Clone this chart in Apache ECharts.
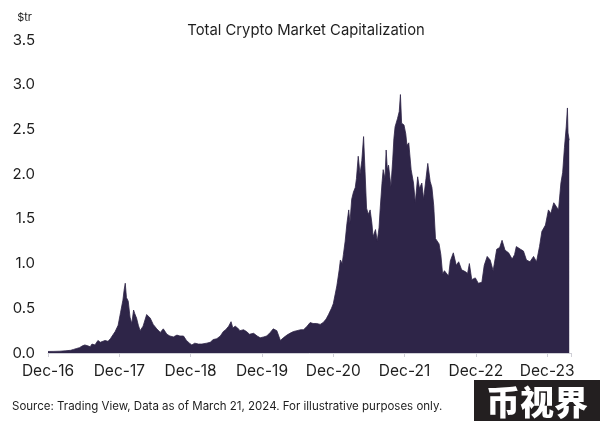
<!DOCTYPE html>
<html>
<head>
<meta charset="utf-8">
<script src="https://cdn.jsdelivr.net/npm/echarts@6/dist/echarts.min.js"></script>
<style>
html,body{margin:0;padding:0;background:#fff;}
#chart{width:600px;height:421px;}
</style>
</head>
<body>
<div id="chart"></div>
<script>
// Months since 1 Dec 2016
var months = [0,1,2,3,3.8,4.3,4.8,5.3,5.8,6.2,6.7,7.1,7.4,7.9,8.4,8.8,9.1,9.6,10.1,10.5,10.8,11.3,11.8,12.2,12.6,12.8,13.0,13.2,13.5,13.8,14.1,14.4,14.6,14.9,15.2,15.5,16.0,16.6,16.9,17.2,17.7,18.3,18.9,19.4,20.0,20.5,21.1,21.7,22.2,22.8,23.3,23.8,24.2,24.7,25.3,25.9,26.7,27.3,27.8,28.4,29.0,29.5,29.9,30.4,30.8,31.1,31.5,31.9,32.3,32.9,33.4,33.9,34.6,35.2,35.7,36.3,36.8,37.4,37.9,38.5,39.1,39.6,40.2,40.7,41.3,41.9,42.5,43.0,43.6,44.1,44.6,45.2,45.8,46.3,46.8,47.2,47.7,48.0,48.3,48.6,49.0,49.2,49.5,49.7,50.0,50.3,50.6,50.8,51.1,51.4,51.7,51.9,52.2,52.5,52.8,53.1,53.3,53.6,53.9,54.2,54.5,54.7,55.1,55.4,55.7,55.9,56.2,56.4,56.7,56.9,57.1,57.3,57.7,58.0,58.2,58.4,58.8,59.1,59.3,59.5,59.9,60.2,60.4,60.7,61.1,61.5,61.8,62.2,62.5,62.9,63.2,63.6,63.9,64.3,64.6,64.9,65.2,65.5,65.8,66.1,66.4,66.7,67.0,67.4,67.7,68.2,68.7,69.1,69.6,70.2,70.6,70.9,71.3,71.9,72.4,73.0,73.4,73.9,74.4,74.9,75.5,76.0,76.4,76.9,77.5,78.1,78.5,78.8,79.5,80.0,80.5,81.1,81.7,82.2,82.7,83.1,83.7,84.2,84.6,85.1,85.5,85.9,86.3,86.6,86.9,87.2,87.4,87.5,87.7];
// Total crypto market cap, $ trillion
var marketCap = [0.017,0.018,0.02,0.025,0.03,0.04,0.05,0.06,0.08,0.09,0.08,0.07,0.10,0.09,0.14,0.12,0.11,0.14,0.13,0.16,0.18,0.24,0.31,0.45,0.59,0.70,0.78,0.62,0.58,0.40,0.33,0.48,0.44,0.39,0.31,0.25,0.30,0.43,0.45,0.39,0.32,0.27,0.23,0.27,0.21,0.19,0.18,0.20,0.19,0.19,0.14,0.11,0.09,0.11,0.10,0.10,0.11,0.12,0.15,0.16,0.19,0.24,0.26,0.30,0.35,0.28,0.30,0.28,0.25,0.26,0.24,0.21,0.22,0.19,0.17,0.18,0.19,0.23,0.27,0.25,0.14,0.17,0.20,0.22,0.24,0.25,0.26,0.26,0.30,0.34,0.33,0.33,0.32,0.34,0.38,0.43,0.50,0.55,0.65,0.75,0.93,1.04,1.00,1.10,1.25,1.45,1.60,1.45,1.72,1.80,1.85,1.95,2.20,2.00,2.15,2.42,2.10,1.62,1.55,1.60,1.45,1.30,1.38,1.25,1.40,1.62,1.90,2.05,1.95,2.27,2.05,2.10,1.86,2.16,2.40,2.53,2.62,2.70,2.89,2.57,2.55,2.45,2.32,2.35,2.05,1.90,1.68,1.97,1.84,1.90,1.72,1.95,2.12,1.92,1.85,1.65,1.28,1.28,1.22,1.10,0.88,0.92,0.90,0.86,1.03,1.12,0.98,1.02,0.93,0.91,0.89,1.00,0.82,0.84,0.78,0.79,0.98,1.08,1.04,0.92,1.16,1.18,1.26,1.15,1.12,1.05,1.10,1.19,1.16,1.14,1.04,1.02,1.08,1.02,1.19,1.36,1.43,1.60,1.56,1.68,1.64,1.60,1.90,2.02,2.30,2.53,2.74,2.46,2.38];
var xTickLabels = ['Dec-16','Dec-17','Dec-18','Dec-19','Dec-20','Dec-21','Dec-22','Dec-23'];
var yTicks = [0, 0.5, 1.0, 1.5, 2.0, 2.5, 3.0, 3.5];
var titleText = 'Total Crypto Market Capitalization';
var unitText = '$tr';
var sourceText = 'Source: Trading View, Data as of March 21, 2024. For illustrative purposes only.';
var watermarkText = '币视界';

var seriesData = months.map(function (m, i) { return [m, marketCap[i]]; });
var FONT = 'Inter, "Noto Sans", sans-serif';
var chart = echarts.init(document.getElementById('chart'), null, {renderer: 'canvas'});
chart.setOption({
  animation: false,
  backgroundColor: '#ffffff',
  title: [{
    text: titleText,
    left: 301, top: 18, textAlign: 'center',
    textStyle: {fontFamily: FONT, fontSize: 14.8, fontWeight: 'normal', color: '#1e1e1e'}
  }, {
    text: sourceText,
    left: 7, top: 396,
    textStyle: {fontFamily: FONT, fontSize: 11.5, fontWeight: 'normal', color: '#1e1e1e'}
  }],
  grid: {left: 48, right: 29, top: 40, bottom: 68},
  xAxis: {
    type: 'value', min: 0, max: 88, interval: 12,
    axisLine: {show: true, lineStyle: {color: '#cfcfd6', width: 1}},
    axisTick: {show: true, length: 4, lineStyle: {color: '#cfcfd6'}},
    splitLine: {show: false},
    axisLabel: {
      margin: 10, fontFamily: FONT, fontSize: 15.5, color: '#1e1e1e',
      formatter: function (v) { var i = Math.round(v / 12); return (v % 12 === 0 && xTickLabels[i]) ? xTickLabels[i] : ''; }
    }
  },
  yAxis: {
    type: 'value', min: yTicks[0], max: yTicks[yTicks.length - 1], interval: 0.5,
    name: unitText, nameLocation: 'end', nameGap: 17,
    nameTextStyle: {fontFamily: FONT, fontSize: 11, color: '#1e1e1e', align: 'right', padding: [0, 16, 0, 0]},
    axisLine: {show: false}, axisTick: {show: false}, splitLine: {show: false},
    axisLabel: {margin: 13, fontFamily: FONT, fontSize: 15, color: '#1e1e1e', formatter: function (v) { return v.toFixed(1); }}
  },
  series: [{
    type: 'line', data: seriesData, showSymbol: false, smooth: false,
    lineStyle: {color: '#2e2548', width: 0.8},
    areaStyle: {color: '#2e2548', opacity: 1},
    z: 2
  }],
  graphic: [{
    type: 'group', right: 0, bottom: 0,
    children: [{
      type: 'rect', shape: {x: 0, y: 0, width: 126, height: 41},
      style: {fill: '#231f20'}
    }, {
      type: 'text', x: 63, y: 22,
      style: {text: watermarkText, fill: '#ffffff', fontFamily: '"Noto Sans CJK SC"', fontWeight: 900, fontSize: 34, align: 'center', verticalAlign: 'middle'}
    }]
  }]
});
</script>
</body>
</html>
